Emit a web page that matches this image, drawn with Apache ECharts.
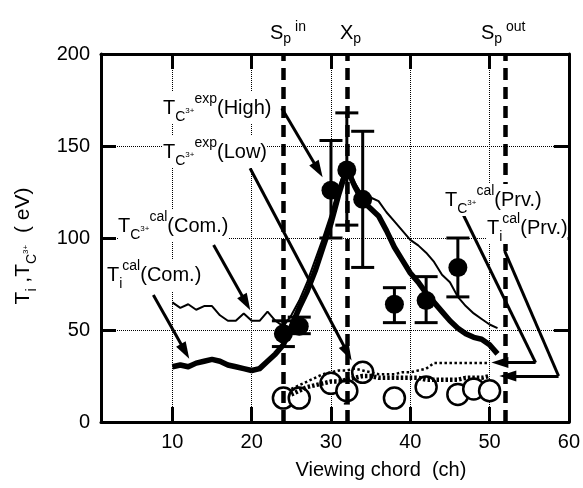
<!DOCTYPE html>
<html><head><meta charset="utf-8">
<script src="https://cdn.jsdelivr.net/npm/echarts@6/dist/echarts.min.js"></script>
<style>html,body{margin:0;padding:0;background:#fff}#c{width:583px;height:488px}</style>
</head><body><div id="c"></div>
<script>
// ---- data ----
const calChords = [10,11,12,13,14,15,16,17,18,19,20,21,22,23,24,25,26,27,28,29,30,31,32,33,34,35,36,37,38,39,40,41,42,43,44,45,46,47,48,49,50,51];
const tiCalCom  = [30,31,30,32,33,34,33,31,30,29,28,29,33,37,42,52,62,71,82,95,108,124,138,128,120,116,112,104,95,88,81,76,70,65,60,55,51,48,46,45,42,37];
const tcCalCom  = [65,62,64,61,63,63,58,55,55,59,55,55,60,55,52,58,66,76,88,100,113,128,140,130,123,122,120,114,109,104,99,96,92,87,80,76,68,63,59,56,53,51];
const prvChords = [25,26,27,28,29,30,31,32,33,34,35,36,37,38,39,40,41,42,43,44,45,46,47,48,49,50];
const tcCalPrv  = [18,20,22,24,26,27,28,28,29,28,27,26,26,26,27,27,28,29,32,32,32,32,32,32,32,32];
const tiCalPrv  = [15,17,19,20,21,22,22,23,24,25,25,24,24,24,24,24,24,23,23,23,23,23,24,24,24,25];
const expHighChords = [24,26,30,32,34,38,42,46];
const expHighT      = [48,52,126,137,121,64,66,84];
const expHighLo     = [41,48,100,107,84,54,54,68];
const expHighHi     = [55,57,153,168,158,73,79,100];
const expLowChords = [24,26,30,32,34,38,42,46,48,50];
const expLowT      = [13,13,21,17,27,13,19,15,18,17];
const expLowLo     = [8,8,16,10,22,8,14,10,13,12];
const expLowHi     = [18,18,26,23,32,18,24,20,23,22];
const xTickValues  = [10,20,30,40,50];
const xLabelValues = [10,20,30,40,50,60];
const boundaryChords = [24,32,52]; // S_p^in, X_p, S_p^out

const FONT = '"Liberation Sans", Arial, Helvetica, sans-serif';
const pairs = (xs, ys) => xs.map((x, i) => [x, ys[i]]);

const chart = echarts.init(document.getElementById('c'), null, {renderer: 'canvas'});

const axisLineStyle = {color: '#000', width: 3};
const tickStyle = {color: '#000', width: 3};
const dotted = {type: 'dotted', color: '#000', width: 1};

function errRender(capW, lw) {
  return function (params, api) {
    const x = api.value(0);
    const p1 = api.coord([x, api.value(1)]);
    const p2 = api.coord([x, api.value(2)]);
    const st = {stroke: '#000', lineWidth: lw};
    const h = capW / 2;
    return {type: 'group', children: [
      {type: 'line', shape: {x1: p1[0], y1: p1[1], x2: p2[0], y2: p2[1]}, style: st},
      {type: 'line', shape: {x1: p1[0] - h, y1: p1[1], x2: p1[0] + h, y2: p1[1]}, style: st},
      {type: 'line', shape: {x1: p2[0] - h, y1: p2[1], x2: p2[0] + h, y2: p2[1]}, style: st}
    ]};
  };
}

const arrowSym = {symbol: 'triangle', symbolSize: [11, 17]};
const annotLines = [
  // boundaries
  ...boundaryChords.map(c => [{coord: [c, 0], lineStyle: {type: [12, 7], width: 4.5, color: '#000'}}, {coord: [c, 200]}]),
  // arrows
  [{coord: [23.8, 170.5]}, Object.assign({coord: [28.4, 137]}, arrowSym)],
  [{coord: [19.8, 137.9]}, Object.assign({coord: [32.1, 37.5]}, arrowSym)],
  [{coord: [15.2, 96.2]}, Object.assign({coord: [19.3, 64.7]}, arrowSym)],
  [{coord: [7.6, 69]}, Object.assign({coord: [11.6, 38.4]}, arrowSym)],
  [{coord: [46.7, 112.5]}, {coord: [55.8, 32.3]}],
  [{coord: [55.8, 32.3]}, Object.assign({coord: [51.3, 32.3]}, arrowSym)],
  [{coord: [51.9, 93]}, {coord: [58.7, 25]}],
  [{coord: [58.7, 25]}, Object.assign({coord: [52.3, 25]}, arrowSym)]
];

const rich = {
  sub: {fontSize: 14, fontFamily: FONT, fill: '#000', verticalAlign: 'bottom'},
  sup: {fontSize: 14, fontFamily: FONT, fill: '#000', verticalAlign: 'top'},
  tiny: {fontSize: 8, fontFamily: FONT, fill: '#000', verticalAlign: 'bottom', padding: [0, 0, 9, 0]}
};
function txt(text, x, y, opts) {
  opts = opts || {};
  return {
    type: 'text', x: x, y: y, z: 100, rotation: opts.rotation || 0, silent: true,
    style: {
      text: text, rich: rich, fontSize: opts.fontSize || 20, fontFamily: FONT, fill: '#000',
      lineHeight: opts.lineHeight || 32,
      align: opts.align || 'left', textAlign: opts.align || 'left',
      verticalAlign: 'middle', textVerticalAlign: 'middle',
      backgroundColor: opts.bg === false ? null : '#fff'
    }
  };
}

const option = {
  animation: false,
  backgroundColor: '#fff',
  grid: {left: 101, right: 14, top: 54, bottom: 66, show: false},
  xAxis: [
    {type: 'value', min: 1, max: 60, position: 'bottom',
     axisLine: {onZero: false, lineStyle: axisLineStyle},
     axisTick: {inside: true, length: 15, lineStyle: tickStyle, customValues: xTickValues},
     axisLabel: {customValues: xLabelValues, fontSize: 20, fontFamily: FONT, color: '#000', margin: 10},
     splitLine: {show: true, lineStyle: dotted},
     name: 'Viewing chord  (ch)', nameLocation: 'middle', nameGap: 38,
     nameTextStyle: {fontSize: 20, fontFamily: FONT, color: '#000', padding: [0, 0, 0, 92]}},
    {type: 'value', min: 1, max: 60, position: 'top',
     axisLine: {onZero: false, lineStyle: axisLineStyle},
     axisTick: {inside: true, length: 15, lineStyle: tickStyle, customValues: xTickValues},
     axisLabel: {show: false}, splitLine: {show: false}}
  ],
  yAxis: [
    {type: 'value', min: 0, max: 200, interval: 50, position: 'left',
     axisLine: {onZero: false, lineStyle: axisLineStyle},
     axisTick: {inside: true, length: 15, lineStyle: tickStyle},
     axisLabel: {fontSize: 20, fontFamily: FONT, color: '#000', margin: 11},
     splitLine: {show: true, lineStyle: dotted}},
    {type: 'value', min: 0, max: 200, interval: 50, position: 'right',
     axisLine: {onZero: false, lineStyle: axisLineStyle},
     axisTick: {inside: true, length: 15, lineStyle: tickStyle},
     axisLabel: {show: false}, splitLine: {show: false}}
  ],
  series: [
    {type: 'custom', name: 'TC3+ exp (Low) err', z: 1, silent: true,
     data: expLowChords.map((x, i) => [x, expLowLo[i], expLowHi[i]]),
     encode: {x: 0, y: [1, 2]}, renderItem: errRender(6, 2)},
    {type: 'scatter', name: 'TC3+ exp (Low)', data: pairs(expLowChords, expLowT), z: 1,
     symbol: 'circle', symbolSize: 21, silent: true,
     itemStyle: {color: '#fff', borderColor: '#000', borderWidth: 2.5, opacity: 1}},
    {type: 'line', name: 'TC3+ cal (Prv.)', data: pairs(prvChords, tcCalPrv), z: 2,
     showSymbol: false, symbol: 'none', silent: true,
     lineStyle: {color: '#000', width: 2.5, type: 'dotted'}},
    {type: 'line', name: 'Ti cal (Prv.)', data: pairs(prvChords, tiCalPrv), z: 2,
     showSymbol: false, symbol: 'none', silent: true,
     lineStyle: {color: '#000', width: 4.5, type: [2.5, 2]}},
    {type: 'line', name: 'TC3+ cal (Com.)', data: pairs(calChords, tcCalCom), z: 3,
     showSymbol: false, symbol: 'none', silent: true,
     lineStyle: {color: '#000', width: 2}},
    {type: 'line', name: 'Ti cal (Com.)', data: pairs(calChords, tiCalCom), z: 3,
     showSymbol: false, symbol: 'none', silent: true, color: '#000',
     itemStyle: {color: '#000'},
     lineStyle: {color: '#000', width: 5.5, join: 'round'},
     markLine: {silent: true, animation: false, symbol: ['none', 'none'],
       label: {show: false}, emphasis: {disabled: true},
       itemStyle: {color: '#000'},
       lineStyle: {color: '#000', width: 3, type: 'solid'},
       data: annotLines}},
    {type: 'custom', name: 'TC3+ exp (High) err', z: 4, silent: true,
     data: expHighChords.map((x, i) => [x, expHighLo[i], expHighHi[i]]),
     encode: {x: 0, y: [1, 2]}, renderItem: errRender(23, 3)},
    {type: 'scatter', name: 'TC3+ exp (High)', data: pairs(expHighChords, expHighT), z: 5,
     symbol: 'circle', symbolSize: 19, silent: true, itemStyle: {color: '#000', opacity: 1}}
  ],
  graphic: [
    txt('T{sub|C}{tiny|3+}{sup|exp}(High)', 163, 108),
    txt('T{sub|C}{tiny|3+}{sup|exp}(Low)', 163, 152),
    txt('T{sub|C}{tiny|3+}{sup|cal}(Com.)', 118, 226),
    txt('T{sub|i}{sup|cal}(Com.)', 107, 275),
    txt('T{sub|C}{tiny|3+}{sup|cal}(Prv.)', 445, 200),
    txt('T{sub|i}{sup|cal}(Prv.)', 487, 228),
    txt('S{sub|p}{sup| in}', 270, 33, {lineHeight: 26, bg: false}),
    txt('X{sub|p}', 340, 33, {lineHeight: 26, bg: false}),
    txt('S{sub|p}{sup| out}', 481, 33, {lineHeight: 26, bg: false}),
    txt('T{sub|i} ,T{sub|C}{tiny|3+}  ( eV)', 23, 246, {rotation: Math.PI / 2, align: 'center', bg: false, fontSize: 21})
  ]
};
chart.setOption(option);
</script></body></html>
